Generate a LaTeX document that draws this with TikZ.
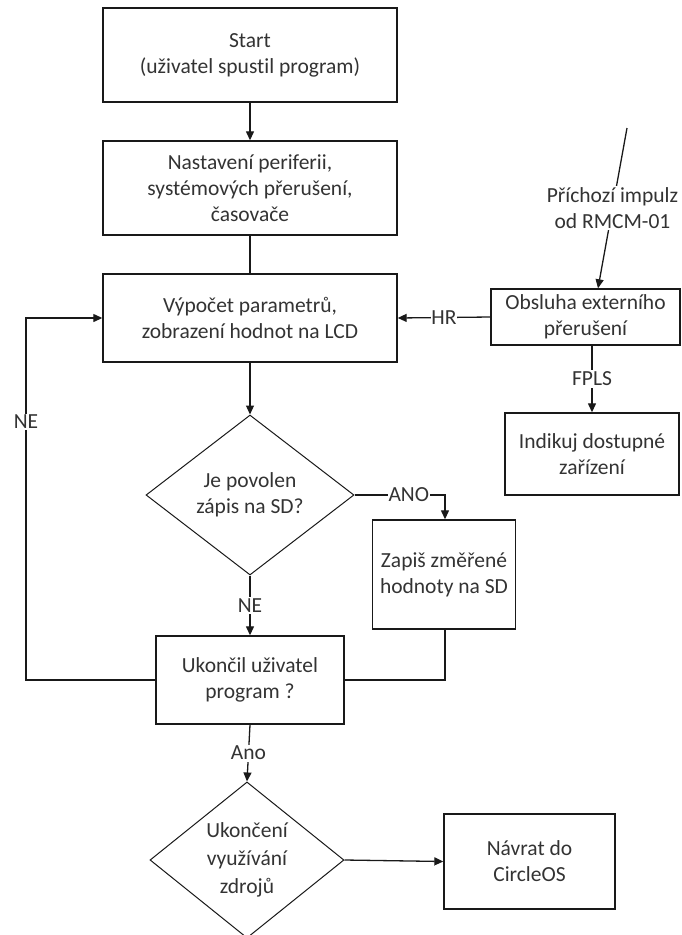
\documentclass[tikz,border=0pt]{standalone}
\usepackage{fontspec}
\setmainfont{Carlito}[Ligatures=NoCommon]
\usetikzlibrary{shapes.geometric,arrows.meta}
\begin{document}
\begin{tikzpicture}[x=1pt,y=-1pt,
  every node/.style={font=\fontsize{21.5}{26}\selectfont, text=black!80, align=center},
  box/.style={draw=black!90, line width=1.4pt, inner sep=0pt},
  dia/.style={draw=black!90, line width=1pt, shape=diamond, inner sep=0pt},
  conn/.style={draw=black!90, line width=1.3pt},
  arr/.style={conn, -{Triangle[length=9pt,width=8pt]}},
  lbl/.style={fill=white, inner sep=1.5pt}
]
\useasboundingbox (0,0) rectangle (681,935);

\node[box, minimum width=294pt, minimum height=94pt] (start) at (250,55) {Start\\(uživatel spustil program)};
\node[box, minimum width=294pt, minimum height=94pt] (nast) at (250,188) {Nastavení periferii,\\systémových přerušení,\\časovače};
\node[box, minimum width=294pt, minimum height=88pt] (vyp) at (250,318) {Výpočet parametrů,\\zobrazení hodnot na LCD};
\node[dia, minimum width=208pt, minimum height=160pt] (dia1) at (250,495) {Je povolen\\zápis na SD?};
\node[box, minimum width=143pt, minimum height=109pt] (zap) at (444,574.5) {Zapiš změřené\\hodnoty na SD};
\node[box, minimum width=188pt, minimum height=88pt] (uk) at (250,680) {Ukončil uživatel\\program ?};
\node[dia, minimum width=194pt, minimum height=146pt, font=\fontsize{21.5}{28}\selectfont] (dia2) at (247,860) {Ukončení\\využívání\\zdrojů};
\node[box, minimum width=171pt, minimum height=95pt] (nav) at (529.5,861.5) {Návrat do\\CircleOS};
\node[box, minimum width=189pt, minimum height=56pt] (obs) at (585.5,317) {Obsluha externího\\přerušení};
\node[box, minimum width=174pt, minimum height=82pt] (ind) at (592,454) {Indikuj dostupné\\zařízení};

\coordinate (src) at (627,128);
\coordinate (lb) at (26,680);
\coordinate (lt) at (26,318);
\coordinate (anoC) at (445,495);

\draw[arr] (start) -- (nast);
\draw[conn] (nast) -- (vyp);
\draw[arr] (vyp) -- (dia1);
\draw[arr] (dia1.east) -- node[lbl, pos=0.6, inner sep=0.5pt] {ANO} (anoC) -- (zap.north -| anoC);
\draw[arr] (dia1.south) -- node[lbl] {NE} (uk.north);
\draw[conn] (zap.south -| anoC) |- (uk.east);
\draw[arr] (uk.west) -- (lb) -- node[lbl, pos=0.713] {NE} (lt) -- (vyp.west);
\draw[arr] (uk.south) -- node[lbl] {Ano} (dia2.north);
\draw[arr] (dia2.east) -- (nav.west);
\draw[arr] (obs.west) -- node[lbl, inner sep=0.5pt] {HR} (vyp.east);
\draw[arr] (src) -- node[lbl, midway] {Příchozí impulz\\od RMCM-01} ([xshift=12.5pt]obs.north);
\draw[arr] (obs.south -| ind.north) -- node[lbl] {FPLS} (ind.north);
\end{tikzpicture}
\end{document}
